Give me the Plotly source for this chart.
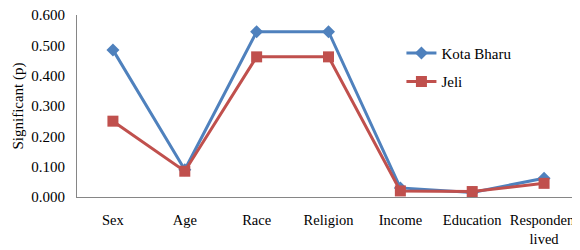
import plotly.graph_objects as go

categories = ["Sex", "Age", "Race", "Religion", "Income", "Education", "Respondent<br>lived"]
kota_bharu = [0.485, 0.090, 0.545, 0.545, 0.030, 0.015, 0.062]
jeli = [0.250, 0.085, 0.462, 0.462, 0.020, 0.018, 0.045]
y_ticks = [0.0, 0.1, 0.2, 0.3, 0.4, 0.5, 0.6]
y_labels = ["0.000", "0.100", "0.200", "0.300", "0.400", "0.500", "0.600"]

fig = go.Figure()
fig.add_trace(go.Scatter(
    x=list(range(len(categories))), y=kota_bharu, name="Kota Bharu",
    mode="lines+markers", legendgroup="kb",
    line=dict(color="#4F81BD", width=3),
    marker=dict(symbol="diamond", size=10, color="#4F81BD"),
))
fig.add_trace(go.Scatter(
    x=list(range(len(categories))), y=jeli, name="Jeli",
    mode="lines+markers", legendgroup="je",
    line=dict(color="#C0504D", width=3),
    marker=dict(symbol="square", size=11, color="#C0504D"),
))

font_family = "Liberation Serif, Times New Roman, serif"
fig.update_layout(
    width=572, height=242,
    margin=dict(l=69, r=0, t=7, b=53),
    paper_bgcolor="white", plot_bgcolor="white",
    font=dict(family=font_family, size=15, color="#000000"),
    showlegend=True,
    legend=dict(
        x=0.645, y=0.88, xanchor="left", yanchor="top",
        bgcolor="rgba(0,0,0,0)", font=dict(size=15, family=font_family),
        tracegroupgap=6, itemwidth=30,
    ),
    xaxis=dict(
        tickmode="array", tickvals=list(range(len(categories))), ticktext=categories,
        range=[-0.5, len(categories) - 0.5],
        showline=True, linecolor="#868686", linewidth=1,
        showgrid=False, zeroline=False, ticks="", automargin=False,
        ticklabeloverflow="allow", ticklabelstandoff=10,
        tickfont=dict(size=14.5, family=font_family),
    ),
    yaxis=dict(
        range=[0, 0.6], tickmode="array", tickvals=y_ticks, ticktext=y_labels,
        showline=True, linecolor="#868686", linewidth=1,
        showgrid=False, zeroline=False,
        ticks="outside", ticklen=8, tickcolor="rgba(0,0,0,0)",
        automargin=False, ticklabeloverflow="allow",
        tickfont=dict(size=15, family=font_family),
        title=dict(text="Significant (p)", font=dict(size=15, family=font_family), standoff=4),
    ),
)

fig.write_html("out.html")
